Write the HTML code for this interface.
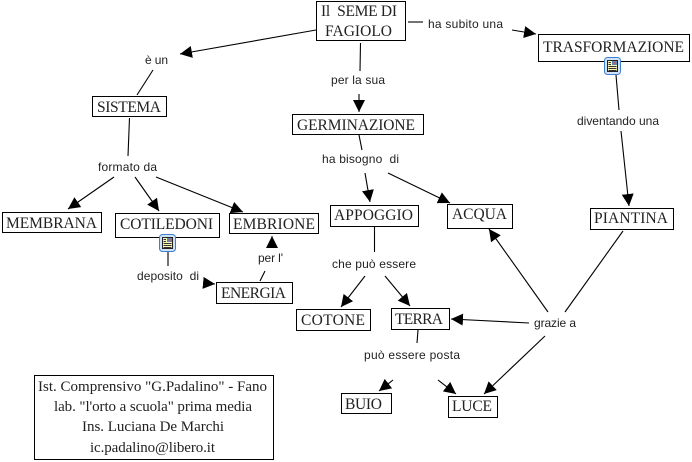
<!DOCTYPE html>
<html>
<head>
<meta charset="utf-8">
<style>
html,body{margin:0;padding:0;background:#fff;}
svg{display:block;}
.b{fill:#fff;stroke:#000;stroke-width:1;shape-rendering:crispEdges;}
.s{font-family:"Liberation Serif",serif;font-size:15.5px;fill:#222;}
.i{font-family:"Liberation Serif",serif;font-size:15px;fill:#222;}
.l{font-family:"Liberation Sans",sans-serif;font-size:12px;fill:#222;}
.c{stroke:#000;stroke-width:1.1;fill:none;}
</style>
</head>
<body>
<svg width="692" height="462" viewBox="0 0 692 462" xmlns="http://www.w3.org/2000/svg">
<defs>
<marker id="a" markerUnits="userSpaceOnUse" markerWidth="13" markerHeight="13" refX="12" refY="6" orient="auto">
<path d="M0,0 L12,6 L0,12 z" fill="#000"/>
</marker>
<g id="icon">
<rect x="0.5" y="0.5" width="16" height="17" rx="3" fill="#cfe2f7" stroke="#3f7fd0"/>
<rect x="3.5" y="3.5" width="10" height="11" fill="#fbf6b4" stroke="#222" stroke-width="1" shape-rendering="crispEdges"/>
<rect x="8" y="4" width="5" height="4" fill="#5a86b8"/>
<rect x="10" y="5" width="2" height="2" fill="#c06060"/>
<path d="M4.5,5.5H7M4.5,7.5H7M4.5,9.5H12.5M4.5,11.5H12.5M4.5,13.5H12.5" stroke="#333" stroke-width="1" fill="none" shape-rendering="crispEdges"/>
</g>
</defs>
<rect width="692" height="462" fill="#fff"/>

<!-- connectors -->
<line class="c" x1="316" y1="30" x2="180" y2="54" marker-end="url(#a)"/>
<line class="c" x1="153" y1="70" x2="137" y2="95"/>
<line class="c" x1="129.5" y1="118" x2="128" y2="156"/>
<line class="c" x1="114" y1="177" x2="68" y2="209" marker-end="url(#a)"/>
<line class="c" x1="135" y1="177" x2="159" y2="211" marker-end="url(#a)"/>
<line class="c" x1="156" y1="177" x2="243" y2="212" marker-end="url(#a)"/>
<line class="c" x1="360.5" y1="43" x2="360" y2="71"/>
<line class="c" x1="359" y1="94" x2="359" y2="112" marker-end="url(#a)"/>
<line class="c" x1="359" y1="135" x2="362" y2="150"/>
<line class="c" x1="365" y1="173" x2="370" y2="202" marker-end="url(#a)"/>
<line class="c" x1="388" y1="173" x2="450" y2="203" marker-end="url(#a)"/>
<line class="c" x1="408" y1="22" x2="423" y2="22"/>
<line class="c" x1="512" y1="30" x2="536" y2="34" marker-end="url(#a)"/>
<line class="c" x1="616" y1="75" x2="619" y2="110"/>
<line class="c" x1="621" y1="131" x2="629" y2="206" marker-end="url(#a)"/>
<line class="c" x1="168" y1="252" x2="168" y2="266"/>
<line class="c" x1="204" y1="283" x2="215" y2="284" marker-end="url(#a)"/>
<line class="c" x1="260" y1="281" x2="265" y2="271"/>
<line class="c" x1="272" y1="248" x2="272" y2="236" marker-end="url(#a)"/>
<line class="c" x1="374.5" y1="227" x2="374.5" y2="252"/>
<line class="c" x1="365" y1="276" x2="341" y2="307" marker-end="url(#a)"/>
<line class="c" x1="385" y1="276" x2="410" y2="306" marker-end="url(#a)"/>
<line class="c" x1="418" y1="330" x2="417" y2="343"/>
<line class="c" x1="393" y1="380" x2="379" y2="391" marker-end="url(#a)"/>
<line class="c" x1="438" y1="380" x2="456" y2="394" marker-end="url(#a)"/>
<line class="c" x1="548" y1="312" x2="489" y2="229" marker-end="url(#a)"/>
<line class="c" x1="565" y1="312" x2="623" y2="231"/>
<line class="c" x1="529" y1="323" x2="451" y2="319" marker-end="url(#a)"/>
<line class="c" x1="545" y1="336" x2="484" y2="394" marker-end="url(#a)"/>

<!-- boxes -->
<rect class="b" x="316.5" y="1.5" width="89" height="39"/>
<rect class="b" x="92.5" y="96.5" width="74" height="20"/>
<rect class="b" x="292.5" y="114.5" width="131" height="20"/>
<rect class="b" x="2.5" y="212.5" width="99" height="20"/>
<rect class="b" x="115.5" y="213.5" width="104" height="24"/>
<rect class="b" x="229.5" y="213.5" width="89" height="20"/>
<rect class="b" x="330.5" y="205.5" width="88" height="21"/>
<rect class="b" x="447.5" y="204.5" width="65" height="24"/>
<rect class="b" x="538.5" y="34.5" width="151" height="27"/>
<rect class="b" x="590.5" y="208.5" width="83" height="21"/>
<rect class="b" x="216.5" y="282.5" width="76" height="21"/>
<rect class="b" x="296.5" y="309.5" width="74" height="21"/>
<rect class="b" x="391.5" y="308.5" width="58" height="21"/>
<rect class="b" x="341.5" y="393.5" width="50" height="20"/>
<rect class="b" x="448.5" y="396.5" width="49" height="21"/>
<rect class="b" x="34.5" y="375.5" width="239" height="84"/>

<!-- icons -->
<use href="#icon" x="604" y="57"/>
<use href="#icon" x="159" y="234"/>

<!-- concept text -->
<text class="s" x="321" y="16" textLength="76" xml:space="preserve">Il  SEME DI</text>
<text class="s" x="325" y="36" textLength="67">FAGIOLO</text>
<text class="s" x="97" y="112" textLength="64">SISTEMA</text>
<text class="s" x="297" y="130" textLength="118">GERMINAZIONE</text>
<text class="s" x="6" y="228" textLength="91">MEMBRANA</text>
<text class="s" x="120" y="229" textLength="93">COTILEDONI</text>
<text class="s" x="233" y="229" textLength="82">EMBRIONE</text>
<text class="s" x="334" y="220" textLength="79">APPOGGIO</text>
<text class="s" x="452" y="219" textLength="55">ACQUA</text>
<text class="s" x="543" y="52" textLength="141">TRASFORMAZIONE</text>
<text class="s" x="594" y="223" textLength="74">PIANTINA</text>
<text class="s" x="221" y="298" textLength="65">ENERGIA</text>
<text class="s" x="301" y="325" textLength="64">COTONE</text>
<text class="s" x="395" y="324" textLength="48">TERRA</text>
<text class="s" x="345" y="409" textLength="37">BUIO</text>
<text class="s" x="452" y="411" textLength="40">LUCE</text>
<text class="i" x="38" y="391" textLength="229">Ist. Comprensivo "G.Padalino" - Fano</text>
<text class="i" x="54" y="411" textLength="198">lab. "l'orto a scuola" prima media</text>
<text class="i" x="82" y="431" textLength="142">Ins. Luciana De Marchi</text>
<text class="i" x="90" y="452" textLength="125">ic.padalino@libero.it</text>

<!-- link labels -->
<text class="l" x="145" y="64" textLength="23">è un</text>
<text class="l" x="98" y="171" textLength="59">formato da</text>
<text class="l" x="331" y="84" textLength="54">per la sua</text>
<text class="l" x="322" y="163" textLength="77" xml:space="preserve">ha bisogno  di</text>
<text class="l" x="428" y="28" textLength="75">ha subito una</text>
<text class="l" x="577" y="125" textLength="82">diventando una</text>
<text class="l" x="137" y="280" textLength="62" xml:space="preserve">deposito  di</text>
<text class="l" x="258" y="262" textLength="25">per l'</text>
<text class="l" x="332" y="268" textLength="84">che può essere</text>
<text class="l" x="534" y="327" textLength="42">grazie a</text>
<text class="l" x="364" y="359" textLength="96">può essere posta</text>
</svg>
</body>
</html>
